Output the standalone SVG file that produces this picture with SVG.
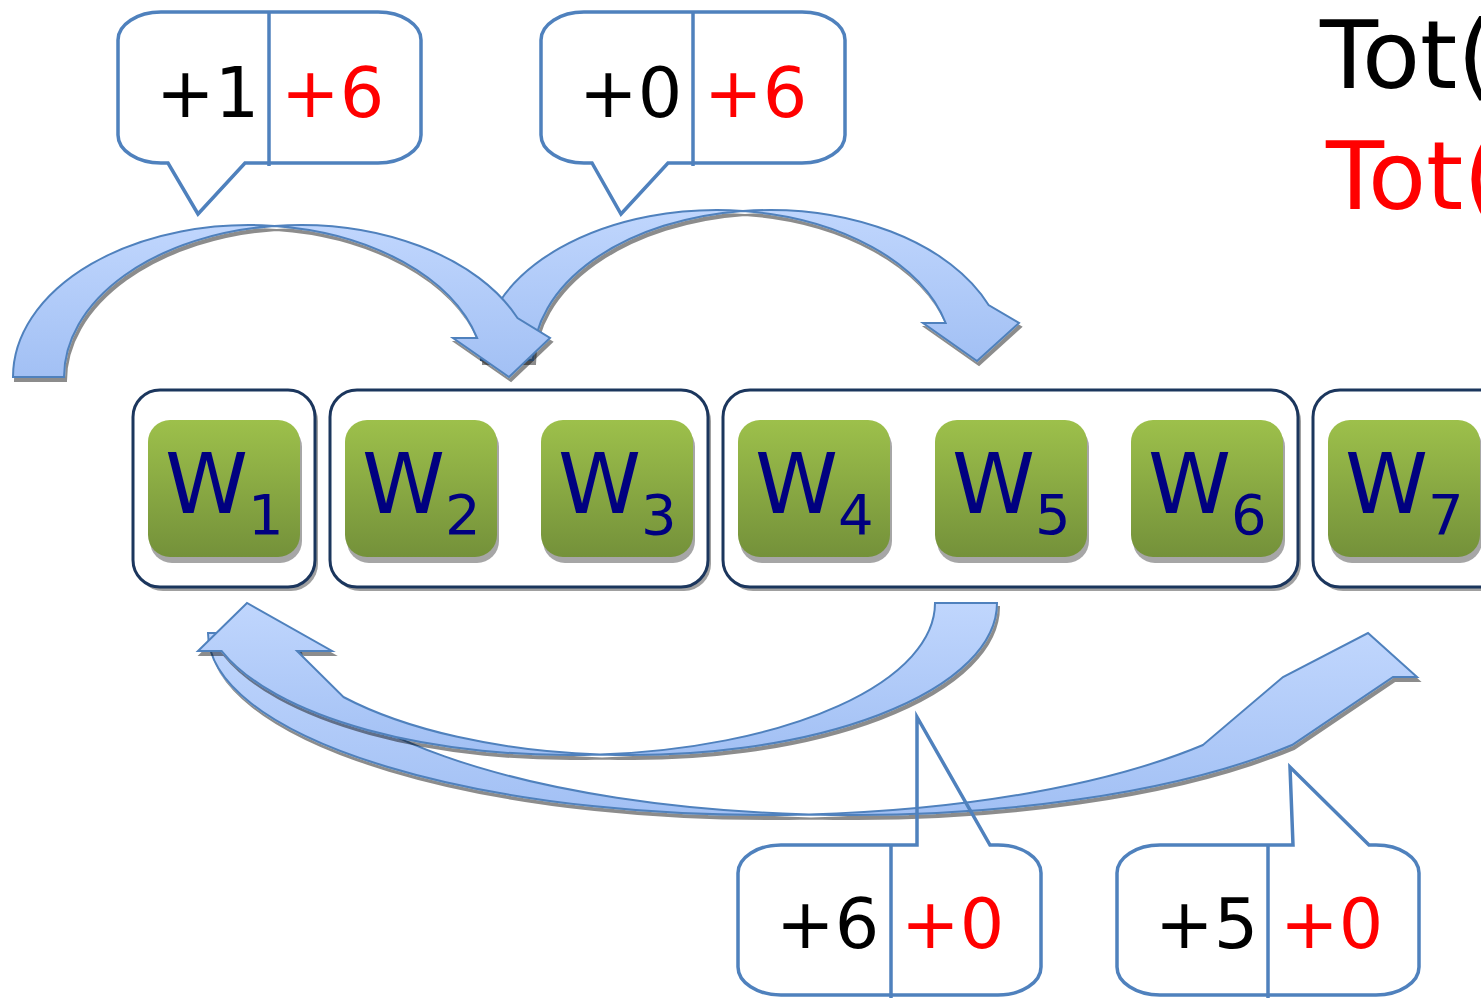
<svg xmlns="http://www.w3.org/2000/svg" width="1481" height="998" viewBox="0 0 1481 998">
  <defs>
    <linearGradient id="arrowFill" x1="0" y1="0" x2="0" y2="1">
      <stop offset="0" stop-color="#c0d6fd"/>
      <stop offset="1" stop-color="#a2c0f4"/>
    </linearGradient>
    <linearGradient id="workerFill" x1="0" y1="0" x2="0" y2="1">
      <stop offset="0" stop-color="#9dc04b"/>
      <stop offset="1" stop-color="#74913a"/>
    </linearGradient>
    <filter id="dropShadow" x="-10%" y="-10%" width="120%" height="130%">
      <feGaussianBlur in="SourceAlpha" stdDeviation="0.7"/>
      <feOffset dx="2" dy="4" result="off"/>
      <feFlood flood-color="#000" flood-opacity="0.45"/>
      <feComposite in2="off" operator="in" result="shadow"/>
      <feMerge>
        <feMergeNode in="shadow"/>
        <feMergeNode in="SourceGraphic"/>
      </feMerge>
    </filter>
  </defs>
  <style>
    .arrow { fill: url(#arrowFill); stroke: #4f81bd; stroke-width: 2; stroke-linejoin: miter; filter: url(#dropShadow); }
    .group { fill: #ffffff; stroke: #1b365d; stroke-width: 3; }
    .groupShadow { fill: #a0a0a0; }
    .worker { fill: url(#workerFill); }
    .workerShadow { fill: #a6a6a6; }
    .workerRim { fill: none; stroke: #b5cf7a; stroke-width: 1; }
    .wlabel { font-family: "DejaVu Sans", "Liberation Sans", sans-serif; font-size: 84px; fill: #000080; }
    .wsub { font-size: 56px; }
    .callout { fill: none; stroke: #4f81bd; stroke-width: 3.5; stroke-linejoin: miter; }
    .divider { stroke: #4f81bd; stroke-width: 3.5; }
    .num { font-family: "DejaVu Sans", "Liberation Sans", sans-serif; font-size: 70px; }
    .black { fill: #000000; }
    .red { fill: #ff0000; }
    .total { font-family: "DejaVu Sans", "Liberation Sans", sans-serif; font-size: 95px; }
  </style>

  <!-- groups of workers -->
  <g id="group-1">
    <rect class="groupShadow" x="136" y="394" width="182" height="197" rx="27"/>
    <rect class="group" x="133" y="390" width="182" height="197" rx="27"/>
  </g>
  <g id="group-2">
    <rect class="groupShadow" x="333" y="394" width="378" height="197" rx="27"/>
    <rect class="group" x="330" y="390" width="378" height="197" rx="27"/>
  </g>
  <g id="group-3">
    <rect class="groupShadow" x="726" y="394" width="575" height="197" rx="27"/>
    <rect class="group" x="723" y="390" width="575" height="197" rx="27"/>
  </g>
  <g id="group-4">
    <rect class="groupShadow" x="1316" y="394" width="200" height="197" rx="27"/>
    <rect class="group" x="1313" y="390" width="200" height="197" rx="27"/>
  </g>

  <!-- workers -->
  <g id="w1">
    <rect class="workerShadow" x="150" y="425" width="152" height="138" rx="22"/>
    <rect class="worker" x="148" y="420" width="152" height="137" rx="22"/>
    <text class="wlabel" x="165" y="513">W<tspan class="wsub" dy="21">1</tspan></text>
  </g>
  <g id="w2">
    <rect class="workerShadow" x="347" y="425" width="152" height="138" rx="22"/>
    <rect class="worker" x="345" y="420" width="152" height="137" rx="22"/>
    <text class="wlabel" x="362" y="513">W<tspan class="wsub" dy="21">2</tspan></text>
  </g>
  <g id="w3">
    <rect class="workerShadow" x="543" y="425" width="152" height="138" rx="22"/>
    <rect class="worker" x="541" y="420" width="152" height="137" rx="22"/>
    <text class="wlabel" x="558" y="513">W<tspan class="wsub" dy="21">3</tspan></text>
  </g>
  <g id="w4">
    <rect class="workerShadow" x="740" y="425" width="152" height="138" rx="22"/>
    <rect class="worker" x="738" y="420" width="152" height="137" rx="22"/>
    <text class="wlabel" x="755" y="513">W<tspan class="wsub" dy="21">4</tspan></text>
  </g>
  <g id="w5">
    <rect class="workerShadow" x="937" y="425" width="152" height="138" rx="22"/>
    <rect class="worker" x="935" y="420" width="152" height="137" rx="22"/>
    <text class="wlabel" x="952" y="513">W<tspan class="wsub" dy="21">5</tspan></text>
  </g>
  <g id="w6">
    <rect class="workerShadow" x="1133" y="425" width="152" height="138" rx="22"/>
    <rect class="worker" x="1131" y="420" width="152" height="137" rx="22"/>
    <text class="wlabel" x="1148" y="513">W<tspan class="wsub" dy="21">6</tspan></text>
  </g>
  <g id="w7">
    <rect class="workerShadow" x="1330" y="425" width="152" height="138" rx="22"/>
    <rect class="worker" x="1328" y="420" width="152" height="137" rx="22"/>
    <text class="wlabel" x="1345" y="513">W<tspan class="wsub" dy="21">7</tspan></text>
  </g>

  <!-- curved transfer arrows -->
  <g id="connectors">
    <path id="arrow-w3-w5" class="arrow" d="M481,360 A236,150 0 0 1 743,210.9 A236,150 0 0 1 988.6,305 L1019,323 L977,361 L923,323 L945.7,323 A236,150 0 0 0 743,210.9 A236,150 0 0 0 533,360 Z"/>
    <path id="arrow-w1-w2" class="arrow" d="M13,377 A236,152 0 0 1 274.5,225.9 A236,152 0 0 1 517.5,318 L550,338 L509,377 L453,338 L477.1,338 A236,152 0 0 0 274.5,225.9 A236,152 0 0 0 64,377 Z"/>
    <path id="arrow-w1-w7" class="arrow" d="M208,633 A556.5,182 0 0 0 809,814.4 A556.5,182 0 0 0 1292,745 L1393,677 L1417,677 L1368,633 L1283,677 L1203,745 A556.5,182 0 0 1 809,814.4 A556.5,182 0 0 1 297,633 Z"/>
    <path id="arrow-w5-w1" class="arrow" d="M997,603 A366,152 0 0 1 600,754.5 A366,152 0 0 1 221.7,651 L198,651 L247,603 L332,651 L297,651 L343.4,697 A366,152 0 0 0 600,754.5 A366,152 0 0 0 935,603 Z"/>
  </g>

  <!-- count callouts -->
  <g id="callout-1">
    <path class="callout" d="M161,12 H378 A43,28 0 0 1 421,40 V135 A43,28 0 0 1 378,163 H245 L198,214 L168,163 H161 A43,28 0 0 1 118,135 V40 A43,28 0 0 1 161,12 Z"/>
    <line class="divider" x1="269" y1="12" x2="269" y2="166"/>
    <text class="num black" x="156" y="117">+1</text>
    <text class="num red" x="281" y="117">+6</text>
  </g>
  <g id="callout-2">
    <path class="callout" d="M584,12 H802 A43,28 0 0 1 845,40 V135 A43,28 0 0 1 802,163 H668 L621,214 L592,163 H584 A43,28 0 0 1 541,135 V40 A43,28 0 0 1 584,12 Z"/>
    <line class="divider" x1="693" y1="12" x2="693" y2="166"/>
    <text class="num black" x="579" y="117">+0</text>
    <text class="num red" x="704" y="117">+6</text>
  </g>
  <g id="callout-3">
    <path class="callout" d="M781,845 H917 V717 L990,845 H998 A43,28 0 0 1 1041,873 V967 A43,28 0 0 1 998,995 H781 A43,28 0 0 1 738,967 V873 A43,28 0 0 1 781,845 Z"/>
    <line class="divider" x1="891" y1="845" x2="891" y2="998"/>
    <text class="num black" x="776" y="948">+6</text>
    <text class="num red" x="901" y="948">+0</text>
  </g>
  <g id="callout-4">
    <path class="callout" d="M1160,845 H1293 L1290,767 L1369,845 H1376 A43,28 0 0 1 1419,873 V967 A43,28 0 0 1 1376,995 H1160 A43,28 0 0 1 1117,967 V873 A43,28 0 0 1 1160,845 Z"/>
    <line class="divider" x1="1268" y1="845" x2="1268" y2="998"/>
    <text class="num black" x="1155" y="948">+5</text>
    <text class="num red" x="1280" y="948">+0</text>
  </g>

  <!-- totals, running past the right edge -->
  <g id="totals">
    <text class="total black" x="1320" y="88">Tot(</text>
    <text class="total red" x="1326" y="209">Tot(</text>
  </g>
</svg>
